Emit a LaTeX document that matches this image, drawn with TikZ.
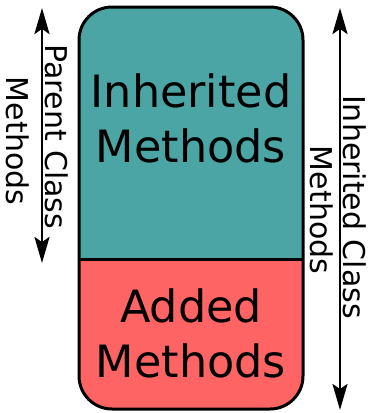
\documentclass[tikz,border=0pt]{standalone}
\usepackage{fontspec}
\setmainfont{DejaVu Sans}
\usetikzlibrary{arrows.meta}
\definecolor{inhcol}{RGB}{75,165,165}
\definecolor{addcol}{RGB}{255,100,100}
\tikzset{
  bigtext/.style={font=\fontsize{44.5}{55}\selectfont, align=center, inner sep=0pt},
  sidetext/.style={font=\fontsize{30}{36}\selectfont, inner sep=0pt, rotate=-90},
  tip/.style={Stealth[length=26pt,width=15pt,inset=5pt]},
  span/.style={line width=2.5pt, {Stealth[length=26pt,width=15pt,inset=5pt]}-{Stealth[length=26pt,width=15pt,inset=5pt]}},
  outline/.style={line width=3pt, line join=round}
}
\begin{document}
\begin{tikzpicture}[x=1pt,y=1pt]
  \useasboundingbox (0,0) rectangle (372,-413);
  % class body: inherited part on top, added part below
  \fill[inhcol] (79,-259) -- (79,-40) arc[start angle=180,end angle=90,radius=33] -- (270,-7) arc[start angle=90,end angle=0,radius=33] -- (303,-259) -- cycle;
  \fill[addcol] (79,-259) -- (79,-376) arc[start angle=180,end angle=270,radius=33] -- (270,-409) arc[start angle=270,end angle=360,radius=33] -- (303,-259) -- cycle;
  \draw[outline] (79,-259) -- (303,-259);
  \draw[outline, rounded corners=33pt] (79,-7) rectangle (303,-409);
  \node[bigtext] (inh) at (191,-118) {Inherited\\Methods};
  \node[bigtext] (add) at (191,-333) {Added\\Methods};
  % left span: parent class methods
  \coordinate (ltop) at (42,-8);
  \coordinate (lbot) at (42,-263);
  \draw[span] (ltop) -- (lbot);
  \node[sidetext] (pc) at (57,-137) {Parent Class};
  \node[sidetext] (pm) at (18,-141) {Methods};
  % right span: inherited class methods
  \coordinate (rtop) at (340,-8);
  \coordinate (rbot) at (340,-410);
  \draw[span] (rtop) -- (rbot);
  \node[sidetext] (ic) at (355,-207) {Inherited Class};
  \node[sidetext] (im) at (322,-210) {Methods};
\end{tikzpicture}
\end{document}
